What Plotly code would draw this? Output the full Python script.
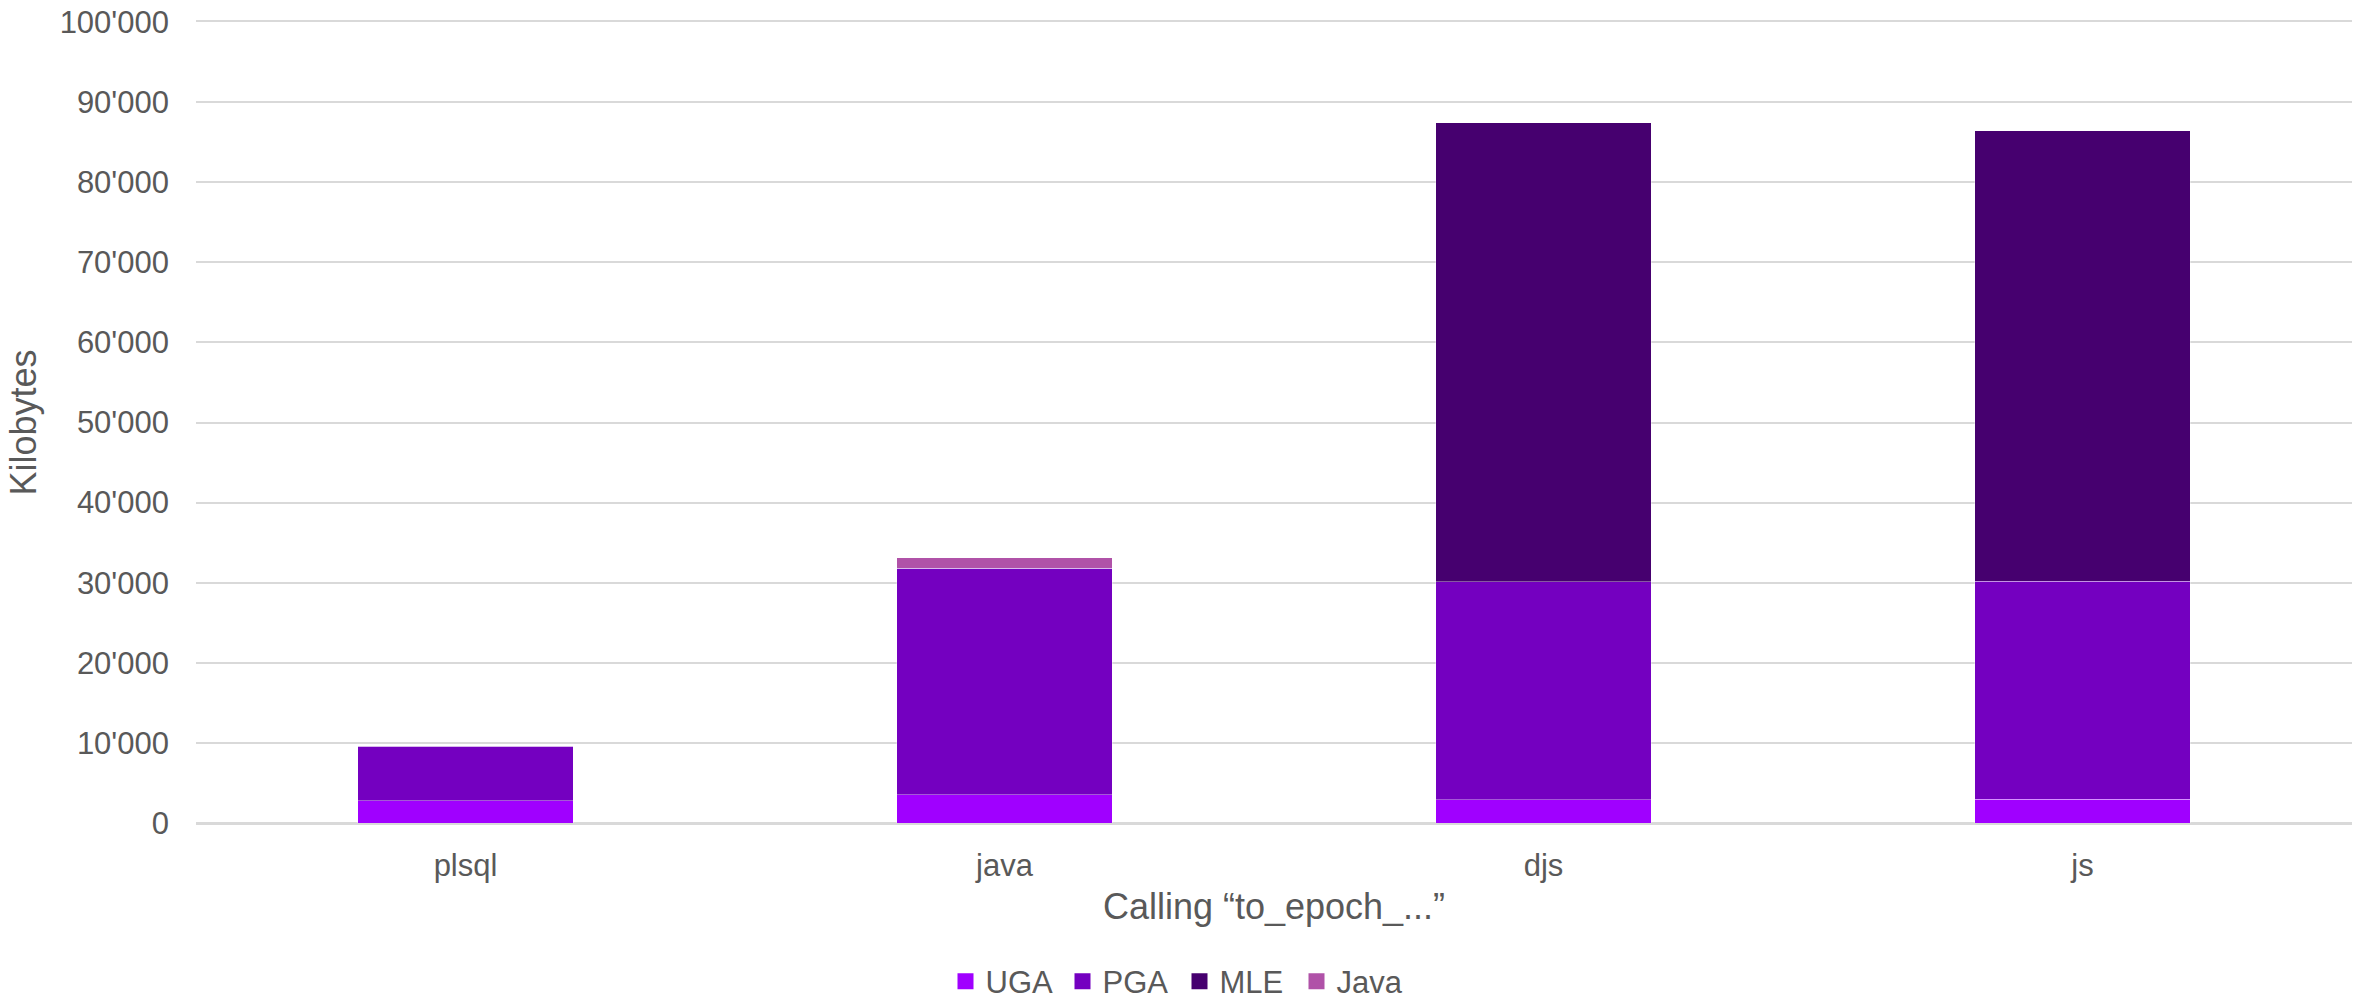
import plotly.graph_objects as go

categories = ["plsql", "java", "djs", "js"]
uga = [2800, 3500, 2900, 2950]
pga = [6800, 28300, 27200, 27250]
mle = [0, 0, 57300, 56200]
java = [0, 1300, 0, 0]

series = [
    ("UGA", uga, "#A000FF"),
    ("PGA", pga, "#7400C0"),
    ("MLE", mle, "#46006F"),
    ("Java", java, "#B052A8"),
]

fig = go.Figure()
for name, vals, color in series:
    fig.add_trace(go.Bar(
        name=name, x=categories, y=vals, showlegend=False,
        marker=dict(color=color, line=dict(color="rgba(255,255,255,0.35)", width=1)),
    ))
# legend entries with larger square swatches
for name, vals, color in series:
    fig.add_trace(go.Scatter(
        name=name, x=[None], y=[None], mode="markers",
        marker=dict(symbol="square", size=17, color=color),
        showlegend=True,
    ))

font_family = "Liberation Sans, Arial, sans-serif"
fig.update_layout(
    width=2359, height=999,
    barmode="stack", bargap=0.6,
    plot_bgcolor="white", paper_bgcolor="white",
    margin=dict(l=196, r=7, t=22, b=176, autoexpand=False),
    font=dict(family=font_family, size=31, color="#595959"),
    showlegend=True,
    legend=dict(
        orientation="h", xref="container", x=0.5, xanchor="center",
        yref="paper", y=-0.198, yanchor="middle",
        font=dict(size=31, color="#595959"),
        traceorder="normal", itemclick=False, itemwidth=30,
        entrywidth=72, entrywidthmode="pixels",
    ),
    xaxis=dict(
        showgrid=False, showline=True, mirror=True, linecolor="#D9D9D9", linewidth=2,
        ticks="", automargin=False,
        ticklabelstandoff=14,
        title=dict(text="Calling “to_epoch_...”", font=dict(size=36, color="#595959"), standoff=12),
    ),
    yaxis=dict(
        range=[0, 100000], dtick=10000, tickformat=",d",
        showgrid=True, gridcolor="#D9D9D9", gridwidth=2,
        zeroline=True, zerolinecolor="#D9D9D9", zerolinewidth=2,
        showline=False, ticks="", ticklabelstandoff=26, automargin=False,
        title=dict(text="Kilobytes", font=dict(size=36, color="#595959"), standoff=12),
    ),
    separators=".'",
)

fig.write_html(
    "out.html",
    config={"displayModeBar": False},
    post_script="document.body.style.margin='0';document.body.style.overflow='hidden';",
)
